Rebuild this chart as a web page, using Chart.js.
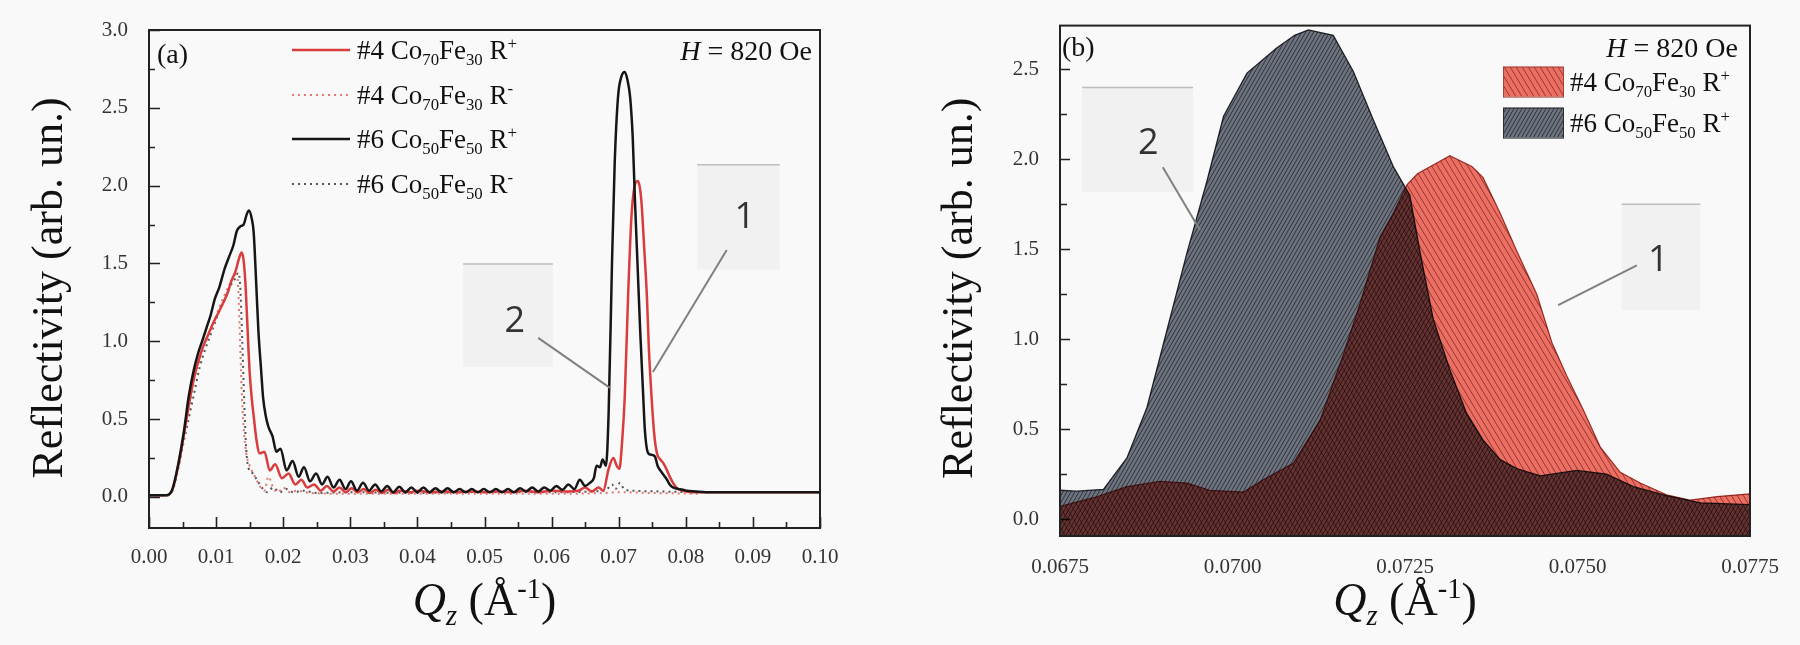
<!DOCTYPE html>
<html><head><meta charset="utf-8">
<script src="https://cdn.jsdelivr.net/npm/chart.js@4.4.1/dist/chart.umd.min.js"></script>
<style>
html,body{margin:0;padding:0;background:#f9f9f9;}
#wrap{position:relative;width:1800px;height:645px;overflow:hidden;}
.pane{position:absolute;top:0;width:900px;height:645px;}
</style></head><body>
<div id="wrap">
<div class="pane" style="left:0"><canvas id="ca" width="900" height="645"></canvas></div>
<div class="pane" style="left:900px"><canvas id="cb" width="900" height="645"></canvas></div>
</div>
<script>
// ---------- Panel (a) data: [Qz, reflectivity] ----------
const a_co70_Rplus = [[0,0.01],[0.0026,0.01],[0.0035,0.05],[0.0044,0.21],[0.0052,0.40],[0.0059,0.58],[0.0064,0.70],[0.0069,0.80],[0.0075,0.89],[0.0081,0.97],[0.0088,1.04],[0.0096,1.12],[0.0103,1.18],[0.0111,1.25],[0.0117,1.31],[0.0123,1.39],[0.0129,1.45],[0.0134,1.53],[0.0138,1.57],[0.0141,1.52],[0.0144,1.35],[0.0148,0.97],[0.0150,0.80],[0.0153,0.64],[0.0157,0.48],[0.0160,0.37],[0.0165,0.28],[0.0172,0.29],[0.0180,0.17],[0.0188,0.21],[0.0198,0.12],[0.0208,0.15],[0.0218,0.08],[0.0227,0.11],[0.0236,0.06],[0.0246,0.08],[0.0256,0.04],[0.0265,0.07],[0.0275,0.035],[0.0284,0.06],[0.0293,0.03],[0.0302,0.055],[0.0311,0.03],[0.0320,0.05],[0.0329,0.025],[0.0338,0.045],[0.0347,0.025],[0.0356,0.045],[0.0365,0.025],[0.0374,0.04],[0.0390,0.03],[0.0400,0.04],[0.0420,0.03],[0.0440,0.035],[0.0460,0.03],[0.0480,0.035],[0.0500,0.03],[0.0520,0.035],[0.0540,0.03],[0.0560,0.04],[0.0580,0.03],[0.0600,0.04],[0.0620,0.035],[0.0640,0.04],[0.0650,0.06],[0.0660,0.035],[0.0670,0.06],[0.0677,0.04],[0.0685,0.18],[0.0692,0.25],[0.0697,0.20],[0.0701,0.18],[0.0705,0.35],[0.0709,0.64],[0.0714,1.29],[0.0719,1.80],[0.0723,1.98],[0.0728,2.03],[0.0731,2.00],[0.0734,1.89],[0.0738,1.60],[0.0742,1.29],[0.0745,0.95],[0.0749,0.64],[0.0753,0.40],[0.0757,0.28],[0.0762,0.24],[0.0766,0.22],[0.0771,0.18],[0.0776,0.13],[0.0781,0.09],[0.0786,0.06],[0.0795,0.04],[0.0810,0.03],[0.1000,0.03]];
const a_co70_Rminus = [[0,0.01],[0.0026,0.01],[0.0035,0.04],[0.0044,0.20],[0.0052,0.38],[0.0060,0.58],[0.0068,0.76],[0.0076,0.89],[0.0085,1.00],[0.0095,1.10],[0.0105,1.22],[0.0115,1.32],[0.0122,1.38],[0.0128,1.43],[0.0132,1.40],[0.0135,1.10],[0.0138,0.70],[0.0141,0.45],[0.0145,0.28],[0.0150,0.20],[0.0158,0.13],[0.0165,0.07],[0.0172,0.04],[0.0178,0.13],[0.0185,0.06],[0.0192,0.03],[0.0200,0.06],[0.0210,0.03],[0.0220,0.04],[0.0240,0.025],[0.0300,0.02],[0.0400,0.02],[0.0500,0.02],[0.0600,0.02],[0.0680,0.025],[0.0700,0.03],[0.0750,0.025],[0.0820,0.02]];
const a_co50_Rplus = [[0,0.01],[0.0026,0.01],[0.0035,0.05],[0.0044,0.22],[0.0052,0.42],[0.0059,0.64],[0.0066,0.80],[0.0073,0.92],[0.0080,1.01],[0.0086,1.09],[0.0092,1.17],[0.0098,1.27],[0.0105,1.35],[0.0113,1.47],[0.0120,1.55],[0.0126,1.62],[0.0131,1.71],[0.0137,1.74],[0.0141,1.75],[0.0146,1.82],[0.0149,1.84],[0.0153,1.79],[0.0156,1.70],[0.0160,1.35],[0.0163,1.07],[0.0167,0.82],[0.0170,0.64],[0.0174,0.52],[0.0178,0.45],[0.0184,0.39],[0.0190,0.29],[0.0196,0.31],[0.0205,0.17],[0.0214,0.23],[0.0223,0.13],[0.0231,0.19],[0.0240,0.10],[0.0249,0.15],[0.0258,0.08],[0.0266,0.13],[0.0275,0.06],[0.0284,0.11],[0.0293,0.05],[0.0301,0.10],[0.0310,0.04],[0.0319,0.09],[0.0328,0.04],[0.0337,0.08],[0.0346,0.035],[0.0355,0.07],[0.0364,0.03],[0.0373,0.065],[0.0382,0.03],[0.0391,0.06],[0.0400,0.03],[0.0409,0.06],[0.0418,0.03],[0.0427,0.055],[0.0436,0.03],[0.0445,0.055],[0.0454,0.03],[0.0463,0.05],[0.0472,0.03],[0.0481,0.05],[0.0490,0.03],[0.0499,0.05],[0.0508,0.03],[0.0517,0.05],[0.0526,0.03],[0.0535,0.05],[0.0544,0.03],[0.0553,0.055],[0.0562,0.035],[0.0571,0.06],[0.0580,0.035],[0.0589,0.06],[0.0598,0.04],[0.0607,0.07],[0.0616,0.045],[0.0625,0.08],[0.0634,0.05],[0.0642,0.11],[0.0650,0.07],[0.0657,0.09],[0.0663,0.12],[0.0667,0.20],[0.0672,0.19],[0.0676,0.24],[0.0681,0.20],[0.0685,0.54],[0.0690,1.50],[0.0694,2.14],[0.0699,2.57],[0.0704,2.70],[0.0709,2.73],[0.0713,2.68],[0.0717,2.57],[0.0721,2.30],[0.0724,1.93],[0.0728,1.50],[0.0732,1.07],[0.0736,0.70],[0.0739,0.43],[0.0744,0.28],[0.0749,0.27],[0.0754,0.26],[0.0758,0.20],[0.0762,0.17],[0.0767,0.14],[0.0772,0.11],[0.0776,0.08],[0.0781,0.06],[0.0790,0.05],[0.0801,0.04],[0.0815,0.035],[0.0830,0.03],[0.0900,0.03],[0.1000,0.03]];
const a_co50_Rminus = [[0,0.01],[0.0026,0.01],[0.0035,0.04],[0.0044,0.19],[0.0052,0.36],[0.0060,0.52],[0.0068,0.68],[0.0076,0.84],[0.0084,0.95],[0.0095,1.08],[0.0105,1.20],[0.0115,1.29],[0.0122,1.36],[0.0128,1.40],[0.0133,1.44],[0.0136,1.35],[0.0139,1.00],[0.0142,0.60],[0.0145,0.30],[0.0148,0.19],[0.0155,0.15],[0.0162,0.10],[0.0170,0.05],[0.0176,0.03],[0.0185,0.06],[0.0195,0.03],[0.0205,0.05],[0.0215,0.03],[0.0230,0.04],[0.0250,0.025],[0.0300,0.03],[0.0400,0.025],[0.0500,0.03],[0.0600,0.03],[0.0680,0.04],[0.0690,0.08],[0.0695,0.05],[0.0702,0.09],[0.0708,0.05],[0.0720,0.04],[0.0760,0.035],[0.0810,0.03]];

const a_xTicks = [0,0.01,0.02,0.03,0.04,0.05,0.06,0.07,0.08,0.09,0.10];
const a_xTickLabels = ['0.00','0.01','0.02','0.03','0.04','0.05','0.06','0.07','0.08','0.09','0.10'];
const a_xMinor = [0.005,0.015,0.025,0.035,0.045,0.055,0.065,0.075,0.085,0.095];
const a_yTicks = [0,0.5,1.0,1.5,2.0,2.5,3.0];
const a_yTickLabels = ['0.0','0.5','1.0','1.5','2.0','2.5','3.0'];
const a_yMinor = [0.25,0.75,1.25,1.75,2.25,2.75];

// ---------- Panel (b) data ----------
const b_co70_Rplus = [[0.0675,0.07],[0.0680,0.12],[0.06847,0.18],[0.06895,0.21],[0.06934,0.20],[0.06967,0.16],[0.07016,0.15],[0.07045,0.22],[0.07088,0.31],[0.07127,0.55],[0.07161,0.92],[0.07185,1.20],[0.07214,1.57],[0.07233,1.70],[0.07253,1.86],[0.07268,1.92],[0.07315,2.02],[0.07347,1.96],[0.07363,1.90],[0.07388,1.70],[0.07412,1.49],[0.07441,1.25],[0.07463,0.98],[0.07484,0.80],[0.07508,0.61],[0.07533,0.40],[0.07562,0.26],[0.07591,0.20],[0.07629,0.135],[0.07663,0.105],[0.07702,0.125],[0.0775,0.14]];
const b_co50_Rplus = [[0.0675,0.16],[0.06774,0.155],[0.06813,0.165],[0.06847,0.34],[0.06876,0.62],[0.06905,1.05],[0.06934,1.48],[0.06963,1.88],[0.06987,2.24],[0.07021,2.48],[0.07064,2.62],[0.07090,2.69],[0.07110,2.72],[0.07146,2.69],[0.07175,2.49],[0.07204,2.22],[0.07233,1.96],[0.07257,1.80],[0.07272,1.48],[0.07291,1.11],[0.07315,0.83],[0.07339,0.59],[0.07363,0.44],[0.07388,0.33],[0.07412,0.28],[0.07446,0.24],[0.07499,0.27],[0.07542,0.25],[0.07581,0.18],[0.07629,0.13],[0.07678,0.09],[0.0775,0.08]];

const b_xTicks = [0.0675,0.0700,0.0725,0.0750,0.0775];
const b_xTickLabels = ['0.0675','0.0700','0.0725','0.0750','0.0775'];
const b_yTicks = [0,0.5,1.0,1.5,2.0,2.5];
const b_yTickLabels = ['0.0','0.5','1.0','1.5','2.0','2.5'];
const b_yMinor = [0.25,0.75,1.25,1.75,2.25];

// ---------- helpers ----------
const SERIF = '"Liberation Serif", "Times New Roman", Times, serif';
const SANS = '"Open Sans", "Noto Sans", sans-serif';
const pts = arr => arr.map(p => ({x: p[0], y: p[1]}));

function rich(ctx, parts, x, y, size, align) {
  let w = 0; const ms = [];
  for (const p of parts) {
    const s = (p.sub || p.sup) ? size * 0.62 : size;
    ctx.font = (p.i ? 'italic ' : '') + s + 'px ' + SERIF;
    const mw = ctx.measureText(p.t).width; ms.push([s, mw]); w += mw;
  }
  let cx = align === 'right' ? x - w : align === 'center' ? x - w / 2 : x;
  ctx.textAlign = 'left'; ctx.textBaseline = 'alphabetic';
  parts.forEach((p, i) => {
    const [s, mw] = ms[i];
    ctx.font = (p.i ? 'italic ' : '') + s + 'px ' + SERIF;
    const dy = p.sub ? size * 0.22 : p.sup ? -size * 0.36 : 0;
    ctx.fillText(p.t, cx, y + dy); cx += mw;
  });
}
const lbl = (num, a, b, sign) => [{t: num + ' Co'}, {t: a, sub: true}, {t: 'Fe'}, {t: b, sub: true}, {t: ' R'}, {t: sign, sup: true}];
const H820 = [{t: 'H', i: true}, {t: ' = 820 Oe'}];
const QZ = [{t: 'Q', i: true}, {t: 'z', i: true, sub: true}, {t: ' (Å'}, {t: '-1', sup: true}, {t: ')'}];

function hatch(base, line, w, h, dir, lw) {
  const c = document.createElement('canvas'); c.width = w; c.height = h;
  const g = c.getContext('2d');
  g.fillStyle = base; g.fillRect(0, 0, w, h);
  g.strokeStyle = line; g.lineWidth = lw;
  for (const off of [-w, 0, w]) {
    g.beginPath();
    if (dir > 0) { g.moveTo(off, h); g.lineTo(off + w, 0); }
    else { g.moveTo(off, 0); g.lineTo(off + w, h); }
    g.stroke();
  }
  return g.createPattern(c, 'repeat');
}

function drawTicks(chart, cfg) {
  const {ctx, chartArea: a, scales: {x, y}} = chart;
  ctx.save(); ctx.strokeStyle = '#222'; ctx.lineWidth = 1.6; ctx.beginPath();
  const vx = (v, len) => { const p = Math.round(x.getPixelForValue(v)) + 0.5; ctx.moveTo(p, a.bottom); ctx.lineTo(p, a.bottom - len); };
  const vy = (v, len) => { const p = Math.round(y.getPixelForValue(v)) + 0.5; ctx.moveTo(a.left, p); ctx.lineTo(a.left + len, p); };
  (cfg.xMaj || []).forEach(v => vx(v, cfg.maj));
  (cfg.xMin || []).forEach(v => vx(v, cfg.min));
  (cfg.yMaj || []).forEach(v => vy(v, cfg.maj));
  (cfg.yMin || []).forEach(v => vy(v, cfg.min));
  ctx.stroke(); ctx.restore();
}

function drawAnn(chart, anns) {
  const {ctx, scales: {x, y}} = chart;
  ctx.save();
  for (const n of anns) {
    const x0 = x.getPixelForValue(n.box[0]), x1 = x.getPixelForValue(n.box[1]);
    const y0 = y.getPixelForValue(n.box[2]), y1 = y.getPixelForValue(n.box[3]);
    ctx.fillStyle = 'rgba(0,0,0,0.03)'; ctx.fillRect(x0, y0, x1 - x0, y1 - y0);
    ctx.strokeStyle = '#bdbdbd'; ctx.lineWidth = 1.5;
    ctx.beginPath(); ctx.moveTo(x0, y0); ctx.lineTo(x1, y0); ctx.stroke();
    ctx.fillStyle = '#333'; ctx.font = '36px ' + SANS; ctx.textAlign = 'center'; ctx.textBaseline = 'middle';
    ctx.fillText(n.text, x.getPixelForValue(n.at[0]), y.getPixelForValue(n.at[1]));
    ctx.strokeStyle = '#808080'; ctx.lineWidth = 2;
    ctx.beginPath();
    ctx.moveTo(x.getPixelForValue(n.lead[0]), y.getPixelForValue(n.lead[1]));
    ctx.lineTo(x.getPixelForValue(n.lead[2]), y.getPixelForValue(n.lead[3]));
    ctx.stroke();
  }
  ctx.restore();
}

function drawCommon(chart, cfg) {
  const {ctx, chartArea: a} = chart;
  ctx.save();
  ctx.strokeStyle = '#222'; ctx.lineWidth = 2;
  ctx.strokeRect(a.left, a.top, a.right - a.left, a.bottom - a.top);
  ctx.fillStyle = '#111';
  ctx.save();
  ctx.translate(a.left + cfg.yTitleDx, (a.top + a.bottom) / 2 + cfg.yTitleDy);
  ctx.rotate(-Math.PI / 2);
  ctx.font = '44px ' + SERIF; ctx.textAlign = 'center'; ctx.textBaseline = 'middle';
  ctx.fillText('Reflectivity (arb. un.)', 0, 0);
  ctx.restore();
  rich(ctx, QZ, (a.left + a.right) / 2, a.bottom + cfg.xTitleDy, 46, 'center');
  ctx.font = '28px ' + SERIF; ctx.textAlign = 'left'; ctx.textBaseline = 'alphabetic';
  ctx.fillText(cfg.tag, a.left + cfg.tagDx, a.top + cfg.tagDy);
  rich(ctx, H820, a.right - cfg.hDx, a.top + cfg.hDy, 28, 'right');
  ctx.restore();
}

// ---------- Chart (a) ----------
const decoA = {
  id: 'decoA',
  afterDatasetsDraw(chart) {
    drawTicks(chart, {xMaj: a_xTicks, xMin: a_xMinor, yMaj: a_yTicks, yMin: a_yMinor, maj: 11, min: 6});
  },
  afterDraw(chart) {
    const {ctx, chartArea: a} = chart;
    drawCommon(chart, {yTitleDx: -99, yTitleDy: 9, xTitleDy: 87, tag: '(a)', tagDx: 8, tagDy: 33, hDx: 8, hDy: 30});
    const items = [
      {ds: 1, parts: lbl('#4', '70', '30', '+')},
      {ds: 2, parts: lbl('#4', '70', '30', '-')},
      {ds: 0, parts: lbl('#6', '50', '50', '+')},
      {ds: 3, parts: lbl('#6', '50', '50', '-')}
    ];
    const rows = [20, 65, 109, 154];
    ctx.save();
    items.forEach((it, i) => {
      const d = chart.data.datasets[it.ds];
      const yy = a.top + rows[i];
      ctx.strokeStyle = d.borderColor; ctx.lineWidth = d.borderWidth;
      ctx.setLineDash(d.borderDash || []);
      ctx.beginPath(); ctx.moveTo(a.left + 143, yy); ctx.lineTo(a.left + 201, yy); ctx.stroke();
      ctx.setLineDash([]);
      ctx.fillStyle = '#111';
      rich(ctx, it.parts, a.left + 208, yy + 9, 27, 'left');
    });
    ctx.restore();
    drawAnn(chart, [
      {box: [0.0817, 0.0940, 2.134, 1.459], text: '1', at: [0.0888, 1.793], lead: [0.0861, 1.587, 0.0751, 0.803]},
      {box: [0.0468, 0.0602, 1.497, 0.835], text: '2', at: [0.0545, 1.125], lead: [0.0580, 1.022, 0.0687, 0.700]}
    ]);
  }
};

const tickFont = {family: SERIF, size: 21};
new Chart(document.getElementById('ca'), {
  type: 'line',
  data: {datasets: [
    {label: '#6 Co50Fe50 R+', data: pts(a_co50_Rplus), borderColor: '#161616', borderWidth: 2.5, pointRadius: 0, cubicInterpolationMode: 'monotone', fill: false},
    {label: '#4 Co70Fe30 R+', data: pts(a_co70_Rplus), borderColor: '#d83c3c', borderWidth: 2.5, pointRadius: 0, cubicInterpolationMode: 'monotone', fill: false},
    {label: '#4 Co70Fe30 R-', data: pts(a_co70_Rminus), borderColor: '#e07a72', borderWidth: 2, borderDash: [2, 4], pointRadius: 0, cubicInterpolationMode: 'monotone', fill: false},
    {label: '#6 Co50Fe50 R-', data: pts(a_co50_Rminus), borderColor: '#555', borderWidth: 2, borderDash: [2, 4], pointRadius: 0, cubicInterpolationMode: 'monotone', fill: false}
  ]},
  options: {
    responsive: false, animation: false, devicePixelRatio: 1,
    layout: {padding: {top: 30, right: 80, left: 0, bottom: 0}},
    plugins: {legend: {display: false}, tooltip: {enabled: false}},
    scales: {
      x: {type: 'linear', min: 0, max: 0.1,
        afterBuildTicks: s => { s.ticks = a_xTicks.map(v => ({value: v})); },
        afterFit: s => { s.height = 117; },
        ticks: {autoSkip: false, maxRotation: 0, padding: 9, color: '#333', font: tickFont, callback: (v, i) => a_xTickLabels[i]},
        grid: {display: false}, border: {display: true, color: '#222', width: 2}},
      y: {type: 'linear', min: -0.2, max: 3.0,
        afterBuildTicks: s => { s.ticks = a_yTicks.map(v => ({value: v})); },
        afterFit: s => { s.width = 149; },
        ticks: {autoSkip: false, padding: 13, color: '#333', font: tickFont, callback: (v, i) => a_yTickLabels[i]},
        grid: {display: false}, border: {display: true, color: '#222', width: 2}}
    }
  },
  plugins: [decoA]
});

// ---------- Chart (b) ----------
const grayPat = hatch('#6e747f', '#2e3239', 4, 7, 1, 1);
const redPat = hatch('#ec6f64', '#983731', 6, 10, -1, 1);

const decoB = {
  id: 'decoB',
  beforeDatasetsDraw(chart) {
    drawTicks(chart, {yMaj: b_yTicks, yMin: b_yMinor, maj: 10, min: 7});
    chart.ctx.save(); chart.ctx.globalCompositeOperation = 'multiply';
  },
  afterDatasetsDraw(chart) { chart.ctx.restore(); },
  afterDraw(chart) {
    const {ctx, chartArea: a} = chart;
    drawCommon(chart, {yTitleDx: -99.5, yTitleDy: 7.5, xTitleDy: 79, tag: '(b)', tagDx: 2, tagDy: 30, hDx: 12, hDy: 31});
    const items = [
      {ds: 1, parts: lbl('#4', '70', '30', '+'), top: 41},
      {ds: 0, parts: lbl('#6', '50', '50', '+'), top: 82}
    ];
    ctx.save();
    items.forEach(it => {
      const d = chart.data.datasets[it.ds];
      const x0 = a.right - 247, y0 = a.top + it.top;
      ctx.fillStyle = d.backgroundColor; ctx.fillRect(x0, y0, 60, 30);
      ctx.strokeStyle = d.borderColor; ctx.lineWidth = 1; ctx.strokeRect(x0 + 0.5, y0 + 0.5, 60, 30);
      ctx.fillStyle = '#111';
      rich(ctx, it.parts, a.right - 180, y0 + 24, 27, 'left');
    });
    ctx.restore();
    drawAnn(chart, [
      {box: [0.06782, 0.06943, 2.40, 1.817], text: '2', at: [0.06878, 2.089], lead: [0.06899, 1.956, 0.06953, 1.606]},
      {box: [0.07564, 0.07678, 1.75, 1.161], text: '1', at: [0.07617, 1.439], lead: [0.07586, 1.411, 0.07472, 1.189]}
    ]);
  }
};

new Chart(document.getElementById('cb'), {
  type: 'line',
  data: {datasets: [
    {label: '#6 Co50Fe50 R+', data: pts(b_co50_Rplus), borderColor: '#2a2d33', borderWidth: 1.3, backgroundColor: grayPat, fill: 'start', pointRadius: 0, tension: 0},
    {label: '#4 Co70Fe30 R+', data: pts(b_co70_Rplus), borderColor: '#a34038', borderWidth: 1.2, backgroundColor: redPat, fill: 'start', pointRadius: 0, tension: 0}
  ]},
  options: {
    responsive: false, animation: false, devicePixelRatio: 1,
    layout: {padding: {top: 25, right: 50, left: 0, bottom: 0}},
    plugins: {legend: {display: false}, tooltip: {enabled: false}},
    scales: {
      x: {type: 'linear', min: 0.0675, max: 0.0775,
        afterBuildTicks: s => { s.ticks = b_xTicks.map(v => ({value: v})); },
        afterFit: s => { s.height = 109; },
        ticks: {autoSkip: false, maxRotation: 0, padding: 11, color: '#333', font: tickFont, callback: (v, i) => b_xTickLabels[i]},
        grid: {display: false}, border: {display: true, color: '#222', width: 2}},
      y: {type: 'linear', min: -0.0944, max: 2.744,
        afterBuildTicks: s => { s.ticks = b_yTicks.map(v => ({value: v})); },
        afterFit: s => { s.width = 160; },
        ticks: {autoSkip: false, padding: 13, color: '#333', font: tickFont, callback: (v, i) => b_yTickLabels[i]},
        grid: {display: false}, border: {display: true, color: '#222', width: 2}}
    }
  },
  plugins: [decoB]
});
</script>
</body></html>
